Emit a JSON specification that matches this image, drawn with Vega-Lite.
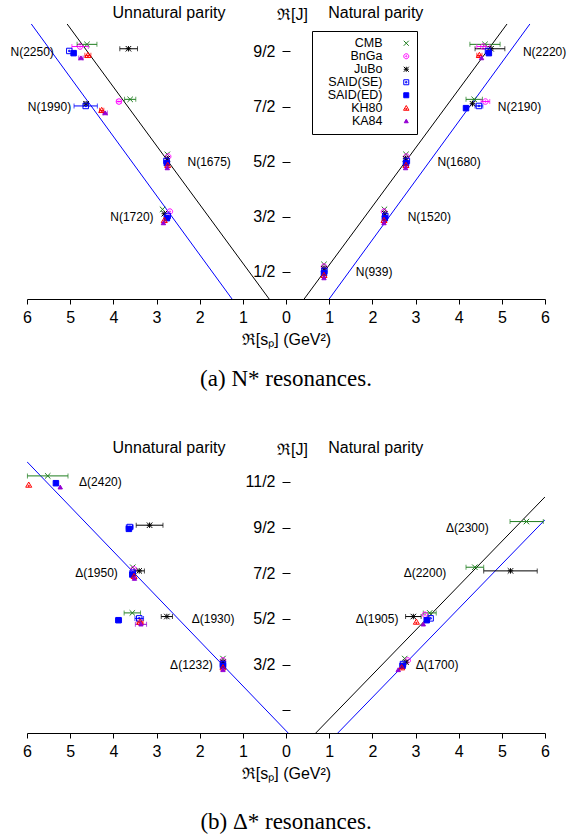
{
"$schema": "https://vega.github.io/schema/vega-lite/v6.json",
"autosize": {"type": "pad"},
"padding": {"left": 10, "top": 4, "right": 0, "bottom": 0},
"bounds": "flush",
"spacing": 160,
"config": {
  "view": {"stroke": null},
  "font": "Liberation Sans",
  "text": {"color": "black"},
  "axis": {"grid": false, "domainColor": "black", "tickColor": "black", "labelColor": "black", "titleColor": "black", "titleFontWeight": "normal", "labelFontSize": 16, "titleFontSize": 16}
},
"datasets": {
  "nPts": [
    {"s":"CMB","x":-4.61,"J":4.63,"lo":-4.84,"hi":-4.38},
    {"s":"BnGa","x":-4.77,"J":4.59,"lo":-4.96,"hi":-4.58},
    {"s":"JuBo","x":-3.65,"J":4.55,"lo":-3.85,"hi":-3.44},
    {"s":"SAID(SE)","x":-5.02,"J":4.51},
    {"s":"SAID(ED)","x":-4.92,"J":4.47},
    {"s":"KH80","x":-4.59,"J":4.43,"lo":-4.66,"hi":-4.52},
    {"s":"KA84","x":-4.75,"J":4.38,"lo":-4.8,"hi":-4.7},
    {"s":"CMB","x":-3.61,"J":3.63,"lo":-3.74,"hi":-3.48},
    {"s":"BnGa","x":-3.87,"J":3.59,"lo":-3.92,"hi":-3.82},
    {"s":"JuBo","x":-4.63,"J":3.55,"lo":-4.68,"hi":-4.58},
    {"s":"SAID(SE)","x":-4.64,"J":3.51,"lo":-4.91,"hi":-4.37},
    {"s":"KH80","x":-4.27,"J":3.43,"lo":-4.32,"hi":-4.22},
    {"s":"KA84","x":-4.19,"J":3.38,"lo":-4.24,"hi":-4.14},
    {"s":"CMB","x":-2.75,"J":2.63},
    {"s":"BnGa","x":-2.73,"J":2.59},
    {"s":"JuBo","x":-2.75,"J":2.55},
    {"s":"SAID(SE)","x":-2.77,"J":2.51},
    {"s":"SAID(ED)","x":-2.76,"J":2.47},
    {"s":"KH80","x":-2.74,"J":2.43},
    {"s":"KA84","x":-2.75,"J":2.38},
    {"s":"CMB","x":-2.86,"J":1.63},
    {"s":"BnGa","x":-2.69,"J":1.59},
    {"s":"JuBo","x":-2.82,"J":1.55},
    {"s":"SAID(SE)","x":-2.74,"J":1.51},
    {"s":"SAID(ED)","x":-2.76,"J":1.47},
    {"s":"KH80","x":-2.82,"J":1.43},
    {"s":"KA84","x":-2.84,"J":1.38},
    {"s":"CMB","x":0.88,"J":0.63},
    {"s":"BnGa","x":0.88,"J":0.59},
    {"s":"JuBo","x":0.88,"J":0.55},
    {"s":"SAID(SE)","x":0.89,"J":0.51},
    {"s":"SAID(ED)","x":0.88,"J":0.47},
    {"s":"KH80","x":0.88,"J":0.43},
    {"s":"KA84","x":0.88,"J":0.38},
    {"s":"CMB","x":2.28,"J":1.63},
    {"s":"BnGa","x":2.27,"J":1.59},
    {"s":"JuBo","x":2.29,"J":1.55},
    {"s":"SAID(SE)","x":2.3,"J":1.51},
    {"s":"SAID(ED)","x":2.29,"J":1.47},
    {"s":"KH80","x":2.27,"J":1.43},
    {"s":"KA84","x":2.27,"J":1.38},
    {"s":"CMB","x":2.78,"J":2.63},
    {"s":"BnGa","x":2.79,"J":2.59},
    {"s":"JuBo","x":2.77,"J":2.55},
    {"s":"SAID(SE)","x":2.8,"J":2.51},
    {"s":"SAID(ED)","x":2.78,"J":2.47},
    {"s":"KH80","x":2.78,"J":2.43},
    {"s":"KA84","x":2.77,"J":2.38},
    {"s":"CMB","x":4.36,"J":3.63,"lo":4.17,"hi":4.55},
    {"s":"BnGa","x":4.62,"J":3.59,"lo":4.52,"hi":4.72},
    {"s":"JuBo","x":4.32,"J":3.55},
    {"s":"SAID(SE)","x":4.47,"J":3.51,"lo":4.38,"hi":4.56},
    {"s":"SAID(ED)","x":4.17,"J":3.47},
    {"s":"CMB","x":4.61,"J":4.63,"lo":4.26,"hi":4.96},
    {"s":"BnGa","x":4.57,"J":4.59,"lo":4.42,"hi":4.72},
    {"s":"JuBo","x":4.75,"J":4.55,"lo":4.38,"hi":5.07},
    {"s":"SAID(SE)","x":4.68,"J":4.51},
    {"s":"SAID(ED)","x":4.7,"J":4.47},
    {"s":"KH80","x":4.48,"J":4.43,"lo":4.42,"hi":4.54},
    {"s":"KA84","x":4.53,"J":4.38}
  ],
  "dPts": [
    {"s":"CMB","x":-5.52,"J":5.63,"lo":-5.99,"hi":-5.05},
    {"s":"SAID(ED)","x":-5.33,"J":5.47},
    {"s":"KH80","x":-5.96,"J":5.43},
    {"s":"KA84","x":-5.23,"J":5.38},
    {"s":"JuBo","x":-3.16,"J":4.55,"lo":-3.47,"hi":-2.85},
    {"s":"SAID(SE)","x":-3.62,"J":4.51,"lo":-3.7,"hi":-3.54},
    {"s":"SAID(ED)","x":-3.64,"J":4.47},
    {"s":"CMB","x":-3.55,"J":3.63},
    {"s":"BnGa","x":-3.53,"J":3.59},
    {"s":"JuBo","x":-3.4,"J":3.55,"lo":-3.52,"hi":-3.28},
    {"s":"SAID(SE)","x":-3.55,"J":3.51},
    {"s":"SAID(ED)","x":-3.56,"J":3.47},
    {"s":"KH80","x":-3.52,"J":3.43},
    {"s":"KA84","x":-3.51,"J":3.38},
    {"s":"CMB","x":-3.56,"J":2.63,"lo":-3.75,"hi":-3.37},
    {"s":"JuBo","x":-2.76,"J":2.55,"lo":-2.89,"hi":-2.63},
    {"s":"SAID(SE)","x":-3.4,"J":2.51,"lo":-3.5,"hi":-3.3},
    {"s":"SAID(ED)","x":-3.88,"J":2.47,"lo":-3.95,"hi":-3.81},
    {"s":"KH80","x":-3.38,"J":2.43,"lo":-3.45,"hi":-3.31},
    {"s":"KA84","x":-3.36,"J":2.38,"lo":-3.49,"hi":-3.23},
    {"s":"CMB","x":-1.46,"J":1.63},
    {"s":"BnGa","x":-1.46,"J":1.59},
    {"s":"JuBo","x":-1.46,"J":1.55},
    {"s":"SAID(SE)","x":-1.46,"J":1.51},
    {"s":"SAID(ED)","x":-1.46,"J":1.47},
    {"s":"KH80","x":-1.46,"J":1.43},
    {"s":"KA84","x":-1.46,"J":1.38},
    {"s":"CMB","x":2.75,"J":1.63},
    {"s":"BnGa","x":2.82,"J":1.59},
    {"s":"JuBo","x":2.78,"J":1.55},
    {"s":"SAID(SE)","x":2.71,"J":1.51},
    {"s":"SAID(ED)","x":2.7,"J":1.47},
    {"s":"KH80","x":2.68,"J":1.43},
    {"s":"KA84","x":2.6,"J":1.38},
    {"s":"CMB","x":3.33,"J":2.63,"lo":3.18,"hi":3.48},
    {"s":"BnGa","x":3.22,"J":2.59},
    {"s":"JuBo","x":2.95,"J":2.55,"lo":2.77,"hi":3.13},
    {"s":"SAID(SE)","x":3.35,"J":2.51},
    {"s":"SAID(ED)","x":3.26,"J":2.47},
    {"s":"KH80","x":3.02,"J":2.43},
    {"s":"KA84","x":3.18,"J":2.38},
    {"s":"CMB","x":4.375,"J":3.63,"lo":4.17,"hi":4.58},
    {"s":"JuBo","x":5.2,"J":3.55,"lo":4.58,"hi":5.82},
    {"s":"CMB","x":5.57,"J":4.63,"lo":5.19,"hi":5.96}
  ],
  "nLines": [
    {"fit":"I","side":"L","x":-5.07,"J":5},
    {"fit":"I","side":"L","x":-0.39,"J":0},
    {"fit":"II","side":"L","x":-5.9,"J":5},
    {"fit":"II","side":"L","x":-1.25,"J":0},
    {"fit":"I","side":"R","x":0.42,"J":0},
    {"fit":"I","side":"R","x":5.12,"J":5},
    {"fit":"II","side":"R","x":1.0,"J":0},
    {"fit":"II","side":"R","x":5.65,"J":5}
  ],
  "dLines": [
    {"fit":"II","side":"L","x":-6.0,"J":5.94},
    {"fit":"II","side":"L","x":0.05,"J":0},
    {"fit":"I","side":"R","x":0.69,"J":0},
    {"fit":"I","side":"R","x":6.0,"J":5.17},
    {"fit":"II","side":"R","x":1.2,"J":0},
    {"fit":"II","side":"R","x":6.0,"J":4.67}
  ],
  "nLabels": [
    {"name":"N(2250)","x":-5.88,"J":4.5},
    {"name":"N(1990)","x":-5.48,"J":3.5},
    {"name":"N(1675)","x":-1.78,"J":2.5},
    {"name":"N(1720)","x":-3.57,"J":1.5},
    {"name":"N(2220)","x":5.99,"J":4.5},
    {"name":"N(2190)","x":5.41,"J":3.5},
    {"name":"N(1680)","x":4.01,"J":2.5},
    {"name":"N(1520)","x":3.32,"J":1.5},
    {"name":"N(939)","x":2.04,"J":0.5}
  ],
  "dLabels": [
    {"name":"Δ(2420)","x":-4.3,"J":5.5},
    {"name":"Δ(1950)","x":-4.39,"J":3.5},
    {"name":"Δ(1930)","x":-1.69,"J":2.5},
    {"name":"Δ(1232)","x":-2.19,"J":1.5},
    {"name":"Δ(2300)","x":4.2,"J":4.5},
    {"name":"Δ(2200)","x":3.22,"J":3.5},
    {"name":"Δ(1905)","x":2.11,"J":2.5},
    {"name":"Δ(1700)","x":3.5,"J":1.5}
  ],
  "nHead": [
    {"t":"Unnatural parity","x":-2.71,"J":5.11},
    {"t":"Natural parity","x":2.08,"J":5.11}
  ],
  "dHead": [
    {"t":"Unnatural parity","x":-2.71,"J":6.13},
    {"t":"Natural parity","x":2.08,"J":6.13}
  ]
},
"resolve": {
  "scale": {"x":"independent","y":"independent","color":"independent"}
},
"vconcat": [
  {
    "width": 518, "height": 275,
    "title": {"text": "(a) N* resonances.", "orient": "bottom", "anchor": "middle", "font": "Liberation Serif", "fontSize": 23, "fontWeight": "normal", "offset": 21, "color": "black"},
    "layer": [
      {
        "mark": {"type": "rule", "color": "black", "strokeWidth": 1},
        "encoding": {"x": {"datum": 0, "type": "quantitative", "scale": {"domain": [-6, 6], "nice": false, "zero": false}}}
      },
      {
        "data": {"name": "nLines"},
        "transform": [{"filter": "datum.fit == 'I'"}],
        "mark": {"type": "line", "color": "black", "strokeWidth": 1, "clip": true},
        "encoding": {
          "x": {"field": "x", "type": "quantitative", "scale": {"domain": [-6, 6], "nice": false, "zero": false}},
          "y": {"field": "J", "type": "quantitative", "scale": {"domain": [0, 5], "nice": false, "zero": false}},
          "detail": {"field": "side"}
        }
      },
      {
        "data": {"name": "nLines"},
        "transform": [{"filter": "datum.fit == 'II'"}],
        "mark": {"type": "line", "color": "#0000ff", "strokeWidth": 1, "clip": true},
        "encoding": {
          "x": {"field": "x", "type": "quantitative"},
          "y": {"field": "J", "type": "quantitative"},
          "detail": {"field": "side"}
        }
      },
      {
        "data": {"name": "nPts"},
        "transform": [{"filter": "isValid(datum.lo)"}],
        "mark": {"type": "rule", "strokeWidth": 1},
        "encoding": {
          "x": {"field": "lo", "type": "quantitative"},
          "x2": {"field": "hi"},
          "y": {"field": "J", "type": "quantitative"},
          "color": {"field": "s", "type": "nominal", "legend": null, "scale": {"domain": ["CMB","BnGa","JuBo","SAID(SE)","SAID(ED)","KH80","KA84"], "range": ["#1e7d1e","#ff00ff","#000000","#0000ff","#0000ff","#ff0000","#9400d3"]}}
        }
      },
      {
        "data": {"name": "nPts"},
        "transform": [{"filter": "isValid(datum.lo)"}],
        "mark": {"type": "tick", "orient": "vertical", "size": 5, "thickness": 1},
        "encoding": {
          "x": {"field": "lo", "type": "quantitative"},
          "y": {"field": "J", "type": "quantitative"},
          "color": {"field": "s", "type": "nominal", "legend": null}
        }
      },
      {
        "data": {"name": "nPts"},
        "transform": [{"filter": "isValid(datum.hi)"}],
        "mark": {"type": "tick", "orient": "vertical", "size": 5, "thickness": 1},
        "encoding": {
          "x": {"field": "hi", "type": "quantitative"},
          "y": {"field": "J", "type": "quantitative"},
          "color": {"field": "s", "type": "nominal", "legend": null}
        }
      },
      {
        "data": {"name": "nPts"},
        "mark": {"type": "point", "size": 30, "strokeWidth": 1, "opacity": 1},
        "encoding": {
          "x": {"field": "x", "type": "quantitative",
            "axis": {"values": [-6,-5,-4,-3,-2,-1,0,1,2,3,4,5,6], "labelExpr": "'' + abs(datum.value)", "title": "ℜ[sₚ] (GeV²)", "tickSize": 5, "labelPadding": 5, "titlePadding": 6, "labelFlush": false}},
          "y": {"field": "J", "type": "quantitative",
            "axis": {"orient": "left", "offset": -263, "domain": false, "tickSize": 8, "labelPadding": 7, "values": [0.5,1.5,2.5,3.5,4.5], "labelExpr": "(datum.value*2) + '/2'", "title": "ℜ[J]", "titleAngle": 0, "titleAlign": "center", "titleBaseline": "alphabetic", "titleX": 2, "titleY": -5}},
          "shape": {"field": "s", "type": "nominal", "title": null,
            "scale": {"domain": ["CMB","BnGa","JuBo","SAID(SE)","SAID(ED)","KH80","KA84"],
              "range": ["M-1,-1L1,1M-1,1L1,-1", "M1,0A1,1,0,1,1,-1,0A1,1,0,1,1,1,0ZM0.25,0A0.25,0.25,0,1,1,-0.25,0A0.25,0.25,0,1,1,0.25,0Z", "M-1,-1L1,1M-1,1L1,-1M-1,0L1,0M0,-1L0,1", "M-1,-1H1V1H-1ZM-0.25,-0.25H0.25V0.25H-0.25Z", "square", "M0,-1.1L1.1,0.8L-1.1,0.8ZM-0.2,0.1H0.2V0.5H-0.2Z", "M0,-0.8L0.8,0.6L-0.8,0.6Z"]},
            "legend": {"orient": "none", "legendX": 285, "legendY": 7, "labelAlign": "right", "labelOffset": -30, "symbolOffset": 82, "symbolSize": 25, "labelFontSize": 12.5, "labelColor": "black", "padding": 6, "strokeColor": "black", "fillColor": "white", "rowPadding": -3, "symbolStrokeWidth": 1}},
          "stroke": {"field": "s", "type": "nominal", "title": null,
            "scale": {"domain": ["CMB","BnGa","JuBo","SAID(SE)","SAID(ED)","KH80","KA84"], "range": ["#1e7d1e","#ff00ff","#000000","#0000ff","#0000ff","#ff0000","#9400d3"]}},
          "fill": {"field": "s", "type": "nominal", "title": null,
            "scale": {"domain": ["CMB","BnGa","JuBo","SAID(SE)","SAID(ED)","KH80","KA84"], "range": ["transparent","transparent","#000000","transparent","#0000ff","transparent","#9400d3"]}}
        }
      },
      {
        "data": {"name": "nLabels"},
        "mark": {"type": "text", "fontSize": 12, "align": "center", "baseline": "middle", "color": "black"},
        "encoding": {
          "x": {"field": "x", "type": "quantitative"},
          "y": {"field": "J", "type": "quantitative"},
          "text": {"field": "name"}
        }
      },
      {
        "data": {"name": "nHead"},
        "mark": {"type": "text", "fontSize": 16, "align": "center", "baseline": "alphabetic", "color": "black"},
        "encoding": {
          "x": {"field": "x", "type": "quantitative"},
          "y": {"field": "J", "type": "quantitative"},
          "text": {"field": "t"}
        }
      }
    ]
  },
  {
    "width": 518, "height": 274,
    "title": {"text": "(b) Δ* resonances.", "orient": "bottom", "anchor": "middle", "font": "Liberation Serif", "fontSize": 23, "fontWeight": "normal", "offset": 30, "color": "black"},
    "layer": [
      {
        "mark": {"type": "rule", "color": "black", "strokeWidth": 1},
        "encoding": {"x": {"datum": 0, "type": "quantitative", "scale": {"domain": [-6, 6], "nice": false, "zero": false}}}
      },
      {
        "data": {"name": "dLines"},
        "transform": [{"filter": "datum.fit == 'I'"}],
        "mark": {"type": "line", "color": "black", "strokeWidth": 1, "clip": true},
        "encoding": {
          "x": {"field": "x", "type": "quantitative", "scale": {"domain": [-6, 6], "nice": false, "zero": false}},
          "y": {"field": "J", "type": "quantitative", "scale": {"domain": [0, 6], "nice": false, "zero": false}},
          "detail": {"field": "side"}
        }
      },
      {
        "data": {"name": "dLines"},
        "transform": [{"filter": "datum.fit == 'II'"}],
        "mark": {"type": "line", "color": "#0000ff", "strokeWidth": 1, "clip": true},
        "encoding": {
          "x": {"field": "x", "type": "quantitative"},
          "y": {"field": "J", "type": "quantitative"},
          "detail": {"field": "side"}
        }
      },
      {
        "data": {"name": "dPts"},
        "transform": [{"filter": "isValid(datum.lo)"}],
        "mark": {"type": "rule", "strokeWidth": 1},
        "encoding": {
          "x": {"field": "lo", "type": "quantitative"},
          "x2": {"field": "hi"},
          "y": {"field": "J", "type": "quantitative"},
          "color": {"field": "s", "type": "nominal", "legend": null, "scale": {"domain": ["CMB","BnGa","JuBo","SAID(SE)","SAID(ED)","KH80","KA84"], "range": ["#1e7d1e","#ff00ff","#000000","#0000ff","#0000ff","#ff0000","#9400d3"]}}
        }
      },
      {
        "data": {"name": "dPts"},
        "transform": [{"filter": "isValid(datum.lo)"}],
        "mark": {"type": "tick", "orient": "vertical", "size": 5, "thickness": 1},
        "encoding": {
          "x": {"field": "lo", "type": "quantitative"},
          "y": {"field": "J", "type": "quantitative"},
          "color": {"field": "s", "type": "nominal", "legend": null}
        }
      },
      {
        "data": {"name": "dPts"},
        "transform": [{"filter": "isValid(datum.hi)"}],
        "mark": {"type": "tick", "orient": "vertical", "size": 5, "thickness": 1},
        "encoding": {
          "x": {"field": "hi", "type": "quantitative"},
          "y": {"field": "J", "type": "quantitative"},
          "color": {"field": "s", "type": "nominal", "legend": null}
        }
      },
      {
        "data": {"name": "dPts"},
        "mark": {"type": "point", "size": 30, "strokeWidth": 1, "opacity": 1},
        "encoding": {
          "x": {"field": "x", "type": "quantitative",
            "axis": {"values": [-6,-5,-4,-3,-2,-1,0,1,2,3,4,5,6], "labelExpr": "'' + abs(datum.value)", "title": "ℜ[sₚ] (GeV²)", "tickSize": 5, "labelPadding": 5, "titlePadding": 6, "labelFlush": false}},
          "y": {"field": "J", "type": "quantitative",
            "axis": {"orient": "left", "offset": -263, "domain": false, "tickSize": 8, "labelPadding": 7, "values": [0.5,1.5,2.5,3.5,4.5,5.5], "labelExpr": "datum.value < 1 ? '' : (datum.value*2) + '/2'", "title": "ℜ[J]", "titleAngle": 0, "titleAlign": "center", "titleBaseline": "alphabetic", "titleX": 2, "titleY": -5}},
          "shape": {"field": "s", "type": "nominal", "title": null},
          "stroke": {"field": "s", "type": "nominal", "title": null},
          "fill": {"field": "s", "type": "nominal", "title": null}
        }
      },
      {
        "data": {"name": "dLabels"},
        "mark": {"type": "text", "fontSize": 12, "align": "center", "baseline": "middle", "color": "black"},
        "encoding": {
          "x": {"field": "x", "type": "quantitative"},
          "y": {"field": "J", "type": "quantitative"},
          "text": {"field": "name"}
        }
      },
      {
        "data": {"name": "dHead"},
        "mark": {"type": "text", "fontSize": 16, "align": "center", "baseline": "alphabetic", "color": "black"},
        "encoding": {
          "x": {"field": "x", "type": "quantitative"},
          "y": {"field": "J", "type": "quantitative"},
          "text": {"field": "t"}
        }
      }
    ]
  }
]
}
